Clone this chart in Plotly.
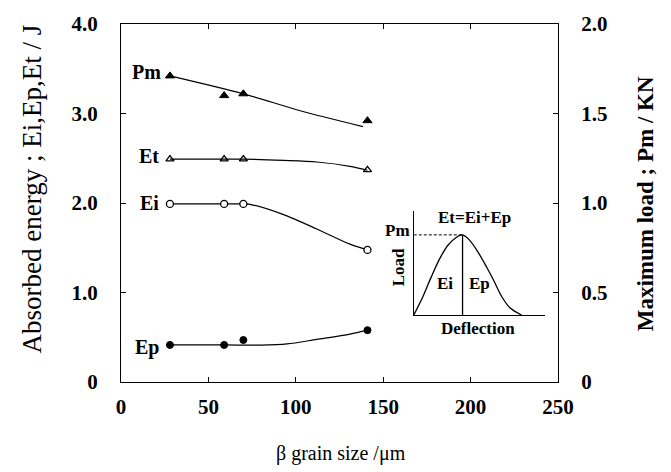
import plotly.graph_objects as go

# ---- data ----
grain = [28, 59, 70, 141]
Pm = [1.71, 1.60, 1.61, 1.46]          # kN (right axis)
Et = [2.49, 2.49, 2.49, 2.37]          # J
Ei = [1.99, 1.99, 1.99, 1.476]
Ep = [0.414, 0.414, 0.469, 0.579]

# fitted curves
pm_fit_x = [28, 70, 102, 138.4]
pm_fit_y = [1.71, 1.61, 1.517, 1.427]
et_fit_x = [28, 59, 70, 93, 112, 131, 141]
et_fit_y = [2.49, 2.49, 2.49, 2.476, 2.458, 2.41, 2.366]
ei_fit_x = [28, 59, 70, 75, 93, 112, 131, 141]
ei_fit_y = [1.99, 1.99, 1.99, 1.98, 1.87, 1.71, 1.54, 1.476]
ep_fit_x = [28, 59, 80, 95, 112, 131, 141]
ep_fit_y = [0.414, 0.414, 0.412, 0.425, 0.476, 0.535, 0.579]

# inset schematic load-deflection curve
ins_x = [0, 0.071, 0.135, 0.198, 0.262, 0.326, 0.372, 0.427, 0.491, 0.555, 0.606, 0.669, 0.733, 0.822]
ins_y = [0, 0.18, 0.37, 0.54, 0.67, 0.745, 0.767, 0.714, 0.60, 0.46, 0.34, 0.18, 0.07, 0]
peak_x = 0.372
peak_y = 0.767

x_ticks = [0, 50, 100, 150, 200, 250]
y_ticks = [0, 1, 2, 3, 4]
y_ticktext = ["0", "1.0", "2.0", "3.0", "4.0"]
y2_ticks = [0, 0.5, 1.0, 1.5, 2.0]
y2_ticktext = ["0", "0.5", "1.0", "1.5", "2.0"]

SERIF = "Liberation Serif"
BLK = "black"
INSET_X = [0.670, 0.970]
INSET_Y = [0.187, 0.479]

fig = go.Figure()

def line(x, y, yaxis="y", xaxis="x", dash="solid"):
    fig.add_trace(go.Scatter(x=x, y=y, mode="lines", xaxis=xaxis, yaxis=yaxis,
                             line=dict(color=BLK, width=1.2, shape="spline", smoothing=0.8, dash=dash),
                             showlegend=False, hoverinfo="skip"))

line(pm_fit_x, pm_fit_y, yaxis="y2")
line(et_fit_x, et_fit_y)
line(ei_fit_x, ei_fit_y)
line(ep_fit_x, ep_fit_y)

fig.add_trace(go.Scatter(x=grain, y=Pm, mode="markers", yaxis="y2", showlegend=False, hoverinfo="skip",
                         marker=dict(symbol="triangle-up", size=8, color=BLK, line=dict(color=BLK, width=1))))
fig.add_trace(go.Scatter(x=grain, y=Et, mode="markers", showlegend=False, hoverinfo="skip",
                         marker=dict(symbol="triangle-up-open", size=7, color=BLK, line=dict(width=1.3))))
fig.add_trace(go.Scatter(x=grain, y=Ei, mode="markers", showlegend=False, hoverinfo="skip",
                         marker=dict(symbol="circle", size=7, color="white", line=dict(color=BLK, width=1.3))))
fig.add_trace(go.Scatter(x=grain, y=Ep, mode="markers", showlegend=False, hoverinfo="skip",
                         marker=dict(symbol="circle", size=7, color=BLK, line=dict(color=BLK, width=1))))

# inset
fig.add_trace(go.Scatter(x=ins_x, y=ins_y, mode="lines", xaxis="x3", yaxis="y3",
                         line=dict(color=BLK, width=1.3, shape="spline", smoothing=0.8),
                         showlegend=False, hoverinfo="skip"))
fig.add_trace(go.Scatter(x=[peak_x, peak_x], y=[0, peak_y], mode="lines", xaxis="x3", yaxis="y3",
                         line=dict(color=BLK, width=1.3), showlegend=False, hoverinfo="skip"))
fig.add_trace(go.Scatter(x=[0, peak_x], y=[peak_y, peak_y], mode="lines", xaxis="x3", yaxis="y3",
                         line=dict(color=BLK, width=1, dash="3px,2px"), showlegend=False, hoverinfo="skip"))

tickfont = dict(family=SERIF, size=21, color=BLK, weight="bold")
fig.update_layout(
    width=671, height=472,
    margin=dict(l=121, r=113, t=19, b=90),
    paper_bgcolor="white", plot_bgcolor="white",
    xaxis=dict(range=[0, 250], tickvals=x_ticks, ticks="inside", ticklen=5, tickcolor=BLK,
               showline=True, linecolor=BLK, linewidth=1, mirror="ticks", showgrid=False,
               zeroline=False, tickfont=tickfont, ticklabelstandoff=6),
    yaxis=dict(range=[0, 4], tickvals=y_ticks, ticktext=y_ticktext, ticks="inside", ticklen=5,
               tickcolor=BLK, showline=True, linecolor=BLK, linewidth=1, mirror=True,
               showgrid=False, zeroline=False, tickfont=tickfont, ticklabelstandoff=18),
    yaxis2=dict(range=[0, 2], tickvals=y2_ticks, ticktext=y2_ticktext, overlaying="y", side="right",
                ticks="inside", ticklen=5, tickcolor=BLK, showline=True, linecolor=BLK, linewidth=1,
                showgrid=False, zeroline=False, tickfont=tickfont, ticklabelstandoff=18),
    xaxis3=dict(domain=INSET_X, range=[0, 1], anchor="y3", showline=True, linecolor=BLK,
                linewidth=1.2, showticklabels=False, ticks="", showgrid=False, zeroline=False),
    yaxis3=dict(domain=INSET_Y, range=[0, 1], anchor="x3", showline=True, linecolor=BLK,
                linewidth=1.2, showticklabels=False, ticks="", showgrid=False, zeroline=False),
)

ann = []
lab = dict(family=SERIF, size=20, color=BLK, weight="bold")
for txt, xx, yy in [("Pm", 24.3, 3.46), ("Et", 22.6, 2.52), ("Ei", 22.6, 2.0), ("Ep", 22.6, 0.388)]:
    ann.append(dict(text=txt, x=xx, y=yy, xref="x", yref="y", xanchor="right",
                    yanchor="middle", showarrow=False, font=lab))
ins_font = dict(family=SERIF, size=17, color=BLK, weight="bold")
for txt, xx, yy, xa, rot in [("Pm", -0.01, 0.81, "right", 0), ("Load", -0.11, 0.46, "center", -90),
                             ("Et=Ei+Ep", 0.466, 0.934, "center", 0), ("Ei", 0.237, 0.30, "center", 0),
                             ("Ep", 0.504, 0.30, "center", 0), ("Deflection", 0.489, -0.13, "center", 0)]:
    px = INSET_X[0] + xx * (INSET_X[1] - INSET_X[0])
    py = INSET_Y[0] + yy * (INSET_Y[1] - INSET_Y[0])
    ann.append(dict(text=txt, x=px, y=py, xref="paper", yref="paper", xanchor=xa,
                    yanchor="middle", showarrow=False, font=ins_font, textangle=rot))
ann.append(dict(text="Absorbed energy ; Ei,Ep,Et / J", x=-0.204, y=0.54, xref="paper", yref="paper",
                textangle=-90, showarrow=False, xanchor="center", yanchor="middle",
                font=dict(family=SERIF, size=27, color=BLK)))
ann.append(dict(text="Maximum load ; Pm / KN", x=1.199, y=0.499, xref="paper", yref="paper",
                textangle=-90, showarrow=False, xanchor="center", yanchor="middle",
                font=dict(family=SERIF, size=23, color=BLK, weight="bold")))
ann.append(dict(text="β grain size /μm", x=0.503, y=-0.201, xref="paper", yref="paper",
                showarrow=False, xanchor="center", yanchor="middle",
                font=dict(family=SERIF, size=20, color=BLK)))
fig.update_layout(annotations=ann)

fig.write_html("out.html")
